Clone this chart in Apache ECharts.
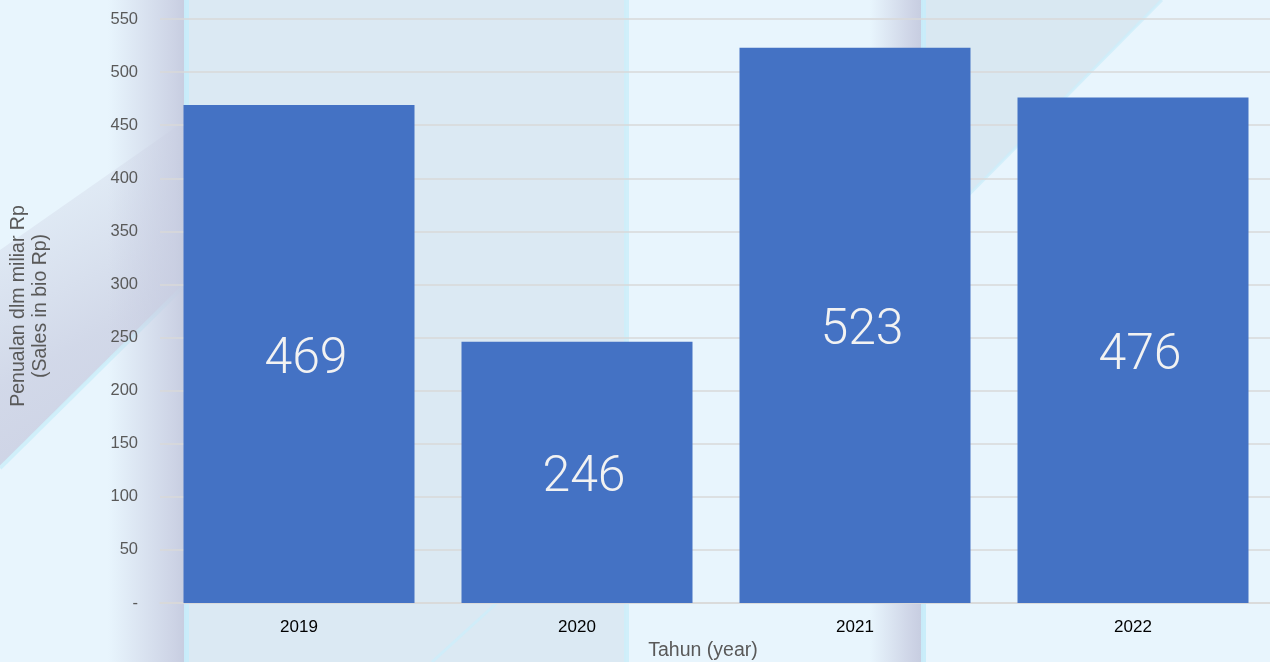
<!DOCTYPE html>
<html>
<head>
<meta charset="utf-8">
<script src="https://cdn.jsdelivr.net/npm/echarts@6/dist/echarts.min.js"></script>
<style>
  html, body { margin: 0; padding: 0; background: #e8f5fd; }
  #chart { width: 1270px; height: 662px; }
</style>
</head>
<body>
<div id="chart"></div>
<script>
// Annual sales, billions of rupiah
const years = ['2019', '2020', '2021', '2022'];
const sales = [469, 246, 523, 476];
const yTicks = [0, 50, 100, 150, 200, 250, 300, 350, 400, 450, 500, 550];

const chart = echarts.init(document.getElementById('chart'));

// Soft decorative backdrop: tinted panels, shaded edges and diagonal sheens
function band(x, w, stops) {
  return {
    type: 'rect', z: -10, silent: true,
    shape: { x: x, y: 0, width: w, height: 662 },
    style: { fill: new echarts.graphic.LinearGradient(0, 0, 1, 0, stops) }
  };
}
const decor = [
  { type: 'rect', z: -12, silent: true, shape: { x: 186, y: 0, width: 440, height: 662 }, style: { fill: '#dbe9f3' } },
  { type: 'polygon', z: -12, silent: true, shape: { points: [[924, 0], [1162, 0], [924, 240]] }, style: { fill: '#d9e8f2' } },
  { type: 'polygon', z: -11, silent: true, shape: { points: [[0, 250], [186, 120], [186, 284], [0, 466]] },
    style: { fill: new echarts.graphic.LinearGradient(0, 0, 1, 1, [
      { offset: 0, color: 'rgba(205,208,225,0)' }, { offset: 0.6, color: 'rgba(200,204,224,0.7)' }, { offset: 1, color: 'rgba(200,204,224,0.9)' }]) } },
  { type: 'line', z: -10, silent: true, shape: { x1: 0, y1: 468, x2: 186, y2: 284 }, style: { stroke: 'rgba(205,238,250,0.9)', lineWidth: 4 } },
  { type: 'line', z: -10, silent: true, shape: { x1: 432, y1: 662, x2: 500, y2: 600 }, style: { stroke: 'rgba(205,238,250,0.8)', lineWidth: 3 } },
  { type: 'line', z: -10, silent: true, shape: { x1: 1162, y1: 0, x2: 924, y2: 240 }, style: { stroke: 'rgba(205,238,250,0.8)', lineWidth: 3 } },
  band(108, 78, [
    { offset: 0, color: 'rgba(200,205,225,0)' },
    { offset: 0.85, color: 'rgba(200,205,225,0.85)' },
    { offset: 1, color: 'rgba(196,202,222,0.95)' }]),
  { type: 'rect', z: -9, silent: true, shape: { x: 184, y: 0, width: 5, height: 662 }, style: { fill: 'rgba(200,236,250,0.95)' } },
  { type: 'rect', z: -9, silent: true, shape: { x: 624, y: 0, width: 5, height: 662 }, style: { fill: 'rgba(205,238,250,0.9)' } },
  band(870, 53, [
    { offset: 0, color: 'rgba(200,205,225,0)' },
    { offset: 0.8, color: 'rgba(200,205,225,0.85)' },
    { offset: 1, color: 'rgba(196,202,222,0.95)' }]),
  { type: 'rect', z: -9, silent: true, shape: { x: 921, y: 0, width: 5, height: 662 }, style: { fill: 'rgba(200,236,250,0.95)' } }
];

chart.setOption({
  backgroundColor: '#e8f5fd',
  textStyle: { fontFamily: 'Liberation Sans, Arial, sans-serif' },
  graphic: { elements: decor },
  grid: { left: 160, right: -2, top: 19, bottom: 59, containLabel: false, outerBoundsMode: 'none' },
  xAxis: {
    type: 'category',
    data: years,
    name: 'Tahun (year)',
    nameLocation: 'middle',
    nameGap: 38,
    nameTextStyle: { color: '#595959', fontSize: 19.5, padding: [0, 26, 0, 0] },
    axisLine: { show: true, lineStyle: { color: '#d9d9d9', width: 1.5 } },
    axisTick: { show: false },
    axisLabel: { color: '#000000', fontSize: 17, margin: 16 }
  },
  yAxis: {
    type: 'value',
    min: 0, max: 550, interval: 50,
    name: 'Penualan dlm miliar Rp\n(Sales in bio Rp)',
    nameLocation: 'middle',
    nameGap: 108,
    nameRotate: 90,
    nameTextStyle: { color: '#595959', fontSize: 19.5, lineHeight: 22, padding: [0, 0, 0, 10] },
    axisLine: { show: false },
    axisTick: { show: false },
    axisLabel: {
      color: '#595959', fontSize: 16.5, margin: 22,
      formatter: v => (yTicks.indexOf(v) === 0 ? '-' : String(v))
    },
    splitLine: { lineStyle: { color: '#d9d9d9', width: 1.5 } }
  },
  series: [{
    type: 'bar',
    data: sales,
    barWidth: 231,
    itemStyle: { color: '#4472c4' },
    label: {
      show: true,
      position: 'inside',
      color: '#f2f2f2',
      fontFamily: 'Roboto, Liberation Sans, sans-serif',
      fontSize: 50,
      fontWeight: 300,
      offset: [7, 6]
    }
  }]
});
</script>
</body>
</html>
